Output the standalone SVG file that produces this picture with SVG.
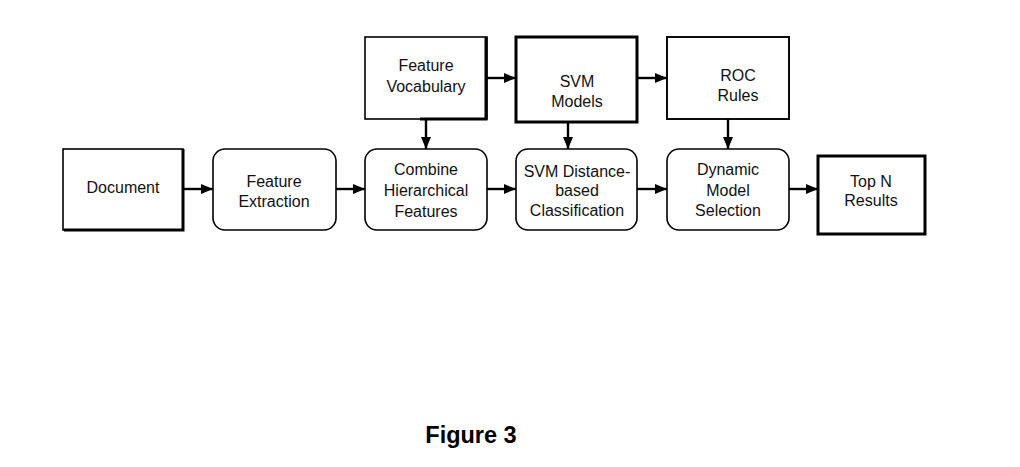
<svg xmlns="http://www.w3.org/2000/svg" width="1020" height="467" viewBox="0 0 1020 467">
<defs>
<marker id="ah" markerWidth="12" markerHeight="10" refX="12" refY="5" orient="auto" markerUnits="userSpaceOnUse">
<path d="M0,0 L12,5 L0,10 Z" fill="#000"/>
</marker>
<style>
.box{fill:#fff;stroke:#000;stroke-width:1.6}
.thick{fill:#fff;stroke:#000;stroke-width:3}
.edge{stroke:#000;stroke-width:3;fill:none}
.lbl{font-family:"Liberation Sans",Arial,sans-serif;font-size:16px;fill:#111;text-anchor:middle}
.conn{stroke:#000;stroke-width:2.4;fill:none;marker-end:url(#ah)}
.cap{font-family:"Liberation Sans",Arial,sans-serif;font-size:23.5px;font-weight:bold;fill:#000;text-anchor:middle}
</style>
</defs>
<rect width="1020" height="467" fill="#fff"/>
<g id="connectors">
<line class="conn" x1="184" y1="189" x2="213" y2="189"/>
<line class="conn" x1="336" y1="189" x2="365" y2="189"/>
<line class="conn" x1="487" y1="189" x2="516" y2="189"/>
<line class="conn" x1="637" y1="189" x2="667" y2="189"/>
<line class="conn" x1="789" y1="189" x2="818" y2="189"/>
<line class="conn" x1="487" y1="78" x2="516" y2="78"/>
<line class="conn" x1="637" y1="78" x2="667" y2="78"/>
<line class="conn" x1="426" y1="119" x2="426" y2="149"/>
<line class="conn" x1="568" y1="122" x2="568" y2="149"/>
<line class="conn" x1="728" y1="119" x2="728" y2="149"/>
</g>
<g id="document">
<rect class="box" x="63" y="149" width="120" height="81"/>
<polyline class="edge" points="183,149 183,230 64,230"/>
<text class="lbl" x="123" y="193">Document</text>
</g>
<g id="feature-extraction">
<rect class="box" x="213" y="149" width="123" height="81" rx="12"/>
<text class="lbl" x="274" y="187">Feature</text>
<text class="lbl" x="274" y="207">Extraction</text>
</g>
<g id="combine">
<rect class="box" x="365" y="149" width="122" height="81" rx="12"/>
<text class="lbl" x="426" y="175">Combine</text>
<text class="lbl" x="426" y="196">Hierarchical</text>
<text class="lbl" x="426" y="217">Features</text>
</g>
<g id="feature-vocabulary">
<rect class="box" x="365" y="37" width="122" height="82"/>
<polyline class="edge" points="486,37 486,119 420,119"/>
<text class="lbl" x="426" y="71">Feature</text>
<text class="lbl" x="426" y="92">Vocabulary</text>
</g>
<g id="svm-models">
<rect class="thick" x="516" y="37" width="121" height="85"/>
<text class="lbl" x="577" y="87">SVM</text>
<text class="lbl" x="577" y="107">Models</text>
</g>
<g id="roc-rules">
<rect class="box" x="667" y="37" width="122" height="82" style="stroke-width:1.9"/>
<text class="lbl" x="738" y="81">ROC</text>
<text class="lbl" x="738" y="101">Rules</text>
</g>
<g id="svm-distance">
<rect class="box" x="516" y="149" width="121" height="81" rx="12"/>
<text class="lbl" x="577" y="177">SVM Distance-</text>
<text class="lbl" x="577" y="196">based</text>
<text class="lbl" x="577" y="216">Classification</text>
</g>
<g id="dynamic-model-selection">
<rect class="box" x="667" y="149" width="122" height="81" rx="12"/>
<text class="lbl" x="728" y="175">Dynamic</text>
<text class="lbl" x="728" y="196">Model</text>
<text class="lbl" x="728" y="216">Selection</text>
</g>
<g id="top-n-results">
<rect class="thick" x="818" y="156" width="107" height="78"/>
<text class="lbl" x="871" y="187">Top N</text>
<text class="lbl" x="871" y="206">Results</text>
</g>
<text class="cap" x="471" y="443">Figure 3</text>
</svg>
